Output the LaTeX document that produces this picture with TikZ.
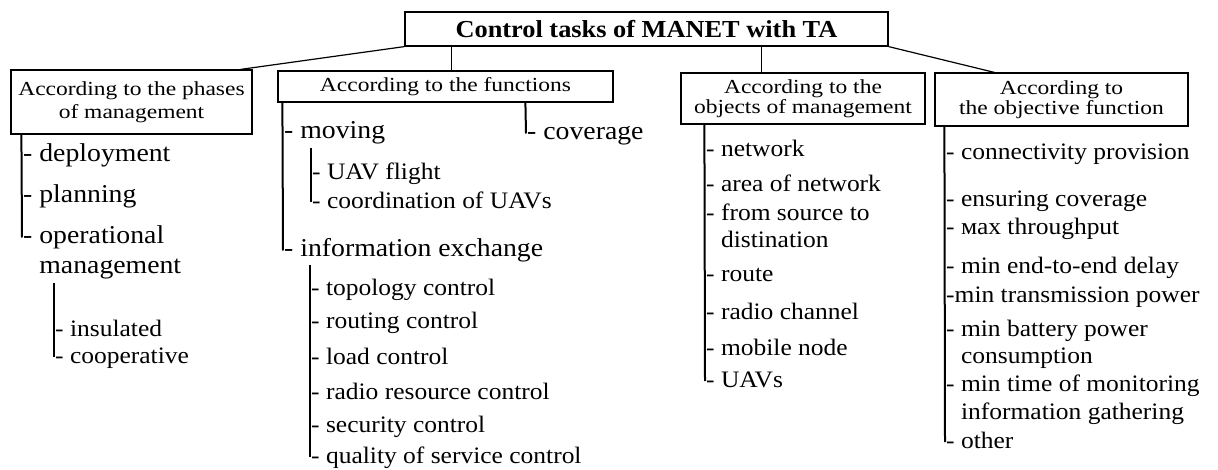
\documentclass[tikz,border=0pt]{standalone}
\usepackage{fontspec}
\setmainfont{Liberation Serif}
\newfontfamily\hdrfont[FakeStretch=1.18]{Liberation Serif}
\newfontfamily\itemfont[FakeStretch=1.08]{Liberation Serif}
\usetikzlibrary{calc}

\tikzset{
  box/.style={draw, line width=1.2pt, inner sep=0pt, align=center,
    font=\hdrfont\fontsize{19.9}{20.5}\selectfont},
  titlebox/.style={box, font=\itemfont\bfseries\fontsize{24.4}{28}\selectfont},
  % multi-line items are placed by the baseline of their last line
  bigitem/.style={anchor=base west, inner sep=0pt, align=left,
    font=\itemfont\fontsize{25.7}{29.5}\selectfont},
  smallitem/.style={anchor=base west, inner sep=0pt, align=left,
    font=\itemfont\fontsize{23.6}{27.5}\selectfont},
  tree/.style={line width=2pt},
  link/.style={line width=1.2pt},
}

\begin{document}
\begin{tikzpicture}[x=1pt, y=-1pt]
\useasboundingbox (0,0) rectangle (1218,470);

% root and the four classification headers
\node[titlebox, minimum width=483pt, minimum height=34pt] (top) at (646.5,29) {Control tasks of MANET with TA};
\node[box, minimum width=241pt, minimum height=64pt] (h1) at (131.5,102) {According to the phases\\[2.5pt]of management};
\node[box, minimum width=335pt, minimum height=31pt] (h2) at (445.5,86.5) {According to the functions};
\node[box, minimum width=244pt, minimum height=51pt] (h3) at (803,98.5) {According to the\\objects of management};
\node[box, minimum width=253pt, minimum height=53pt] (h4) at (1061.5,99.5) {According to\\the objective function};

\draw[link] (top.south west) -- ($(h1.north east)+(-12,0)$);
\draw[link] ($(top.south west)+(47,0)$) -- ($(h2.north west)+(174,0)$);
\draw[link] ($(top.south west)+(357,0)$) -- ($(h3.north west)+(81,0)$);
\draw[link] (top.south east) -- ($(h4.north west)+(60,0)$);

% phases of management
\node[bigitem] (dep) at (23,162) {- deployment};
\node[bigitem] (plan) at (23,203) {- planning};
\node[bigitem] (op) at (23,273.5) {- operational\\\hphantom{- }management};
\coordinate (e1) at (22,237.5);
\draw[tree] ($(h1.south west)+(11,0)$) -- (e1);

\node[smallitem] (ins) at (55,337) {- insulated};
\node[smallitem] (coop) at (55,363) {- cooperative};
\coordinate (s1) at (54,283);
\coordinate (e1b) at (54,356.5);
\draw[tree] (s1) -- (e1b);

% functions
\node[bigitem] (mov) at (284,139) {- moving};
\node[bigitem] (info) at (284,257) {- information exchange};
\coordinate (e2) at (283,250.5);
\draw[tree] ($(h2.south west)+(5,0)$) -- (e2);

\node[bigitem] (cov) at (527,140) {- coverage};
\coordinate (e2c) at (526,133.5);
\draw[tree] ($(h2.south west)+(248,0)$) -- (e2c);

\node[smallitem] (uav) at (312,179.5) {- UAV flight};
\node[smallitem] (coord) at (312,208.5) {- coordination of UAVs};
\coordinate (s2a) at (311,148);
\coordinate (e2a) at (311,202.5);
\draw[tree] (s2a) -- (e2a);

\node[smallitem] (topo) at (311,295) {- topology control};
\node[smallitem] (rout) at (311,328) {- routing control};
\node[smallitem] (load) at (311,364) {- load control};
\node[smallitem] (rrc) at (311,399) {- radio resource control};
\node[smallitem] (sec) at (311,432) {- security control};
\node[smallitem] (qos) at (311,463) {- quality of service control};
\coordinate (s2b) at (310,265);
\coordinate (e2b) at (310,457);
\draw[tree] (s2b) -- (e2b);

% objects of management
\node[smallitem] (net) at (706,157) {- network};
\node[smallitem] (area) at (706,192) {- area of network};
\node[smallitem] (src) at (706,248) {- from source to\\\hphantom{- }distination};
\node[smallitem] (route) at (706,282) {- route};
\node[smallitem] (radio) at (706,319.5) {- radio channel};
\node[smallitem] (mob) at (706,355) {- mobile node};
\node[smallitem] (uavs) at (706,387) {- UAVs};
\coordinate (e3) at (705,381);
\draw[tree] ($(h3.south west)+(24,0)$) -- (e3);

% objective function
\node[smallitem] (conn) at (946,160) {- connectivity provision};
\node[smallitem] (ens) at (946,207) {- ensuring coverage};
\node[smallitem] (thr) at (946,235) {- мах throughput};
\node[smallitem] (e2e) at (946,273.5) {- min end-to-end delay};
\node[smallitem] (tx) at (946,302) {-min transmission power};
\node[smallitem] (batt) at (946,363.5) {- min battery power\\\hphantom{- }consumption};
\node[smallitem] (mon) at (946,419) {- min time of monitoring\\\hphantom{- }information gathering};
\node[smallitem] (oth) at (946,448.5) {- other};
\coordinate (e4) at (945,442);
\draw[tree] ($(h4.south west)+(10,0)$) -- (e4);
\end{tikzpicture}
\end{document}
